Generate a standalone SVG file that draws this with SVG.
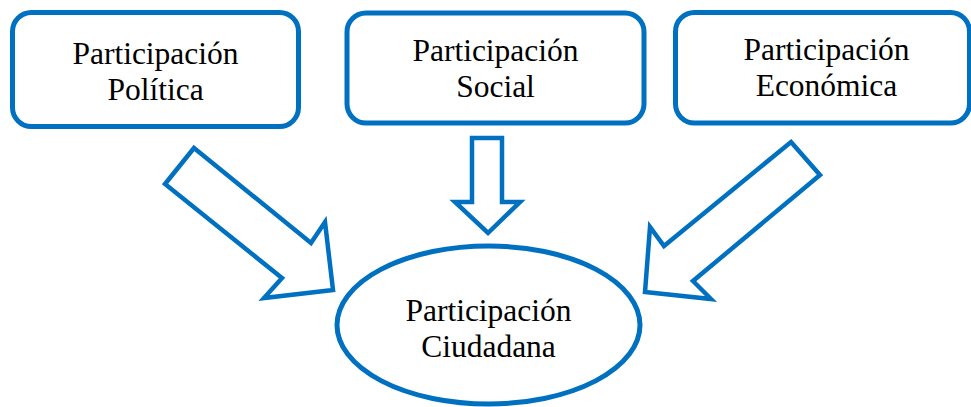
<svg xmlns="http://www.w3.org/2000/svg" width="971" height="407" viewBox="0 0 971 407">
<style>
.box{fill:#fff;stroke:#0070C0;stroke-width:5}
.arr{fill:#fff;stroke:#0070C0;stroke-width:4.5;stroke-linejoin:miter}
text{font-family:"Liberation Serif","Times New Roman",serif;font-size:31.5px;fill:#000;text-anchor:middle}
</style>
<rect width="971" height="407" fill="#fff"/>
<g id="connectors">
<polygon class="arr" points="194,148 311,243 325,222 333,290 264,298 282,278 165,184"/>
<polygon class="arr" points="472,138 502,138 502,202 520,202 488,233 455,202 472,202"/>
<polygon class="arr" points="791,142 820,175 693,281 711,299 645,292 650,227 664,246"/>
</g>
<g id="politica">
<rect class="box" x="12.5" y="12.5" width="286" height="114" rx="19"/>
<text x="155.5" y="64">Participación</text>
<text x="155.5" y="100">Política</text>
</g>
<g id="social">
<rect class="box" x="347" y="13" width="297" height="110" rx="19"/>
<text x="495.5" y="61">Participación</text>
<text x="495.5" y="97">Social</text>
</g>
<g id="economica">
<rect class="box" x="675.5" y="12.5" width="294" height="110.5" rx="19"/>
<text x="826.5" y="60">Participación</text>
<text x="826.5" y="96">Económica</text>
</g>
<g id="ciudadana">
<ellipse class="box" cx="488.5" cy="325" rx="151.5" ry="79"/>
<text x="488.5" y="321">Participación</text>
<text x="488.5" y="357">Ciudadana</text>
</g>
</svg>
